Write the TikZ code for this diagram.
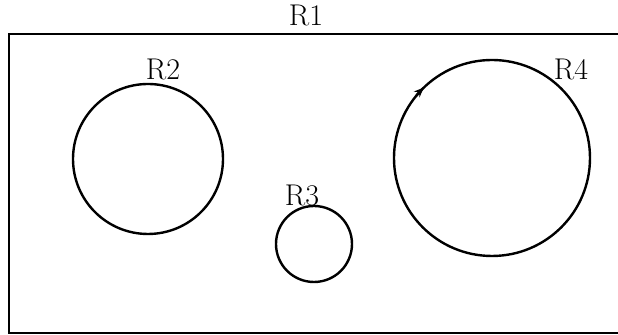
\documentclass[tikz,border=0pt]{standalone}
\usepackage{tikz}
\usetikzlibrary{arrows.meta}

\tikzset{
  region/.style={draw, circle, line width=1.2pt, inner sep=0pt},
  regionlabel/.style={inner sep=0pt, font=\fontsize{15}{18}\selectfont}
}

\begin{document}
\begin{tikzpicture}[x=0.5pt, y=-0.5pt, line width=1.2pt]
\useasboundingbox (0,0) rectangle (618,335);

% Outer region (right side runs off the page)
\draw (618,34) -- (9,34) -- (9,333) -- (618,333);
\node[regionlabel] (lR1) at (306,16) {R1};

% Inner regions
\node[region, minimum size=75pt] (R2) at (148,159) {};
\node[region, minimum size=38pt] (R3) at (314,244) {};
\node[region, minimum size=98pt] (R4) at (492,158) {};

% Small arrow mark on R4
\draw[-{Stealth[length=5pt,width=4pt]}] (R4.center) ++(-141:98) arc (-141:-134:98);

% Labels
\node[regionlabel] (lR2) at (163,70) {R2};
\node[regionlabel] (lR3) at (302,196) {R3};
\node[regionlabel] (lR4) at (571,70) {R4};

\end{tikzpicture}
\end{document}
